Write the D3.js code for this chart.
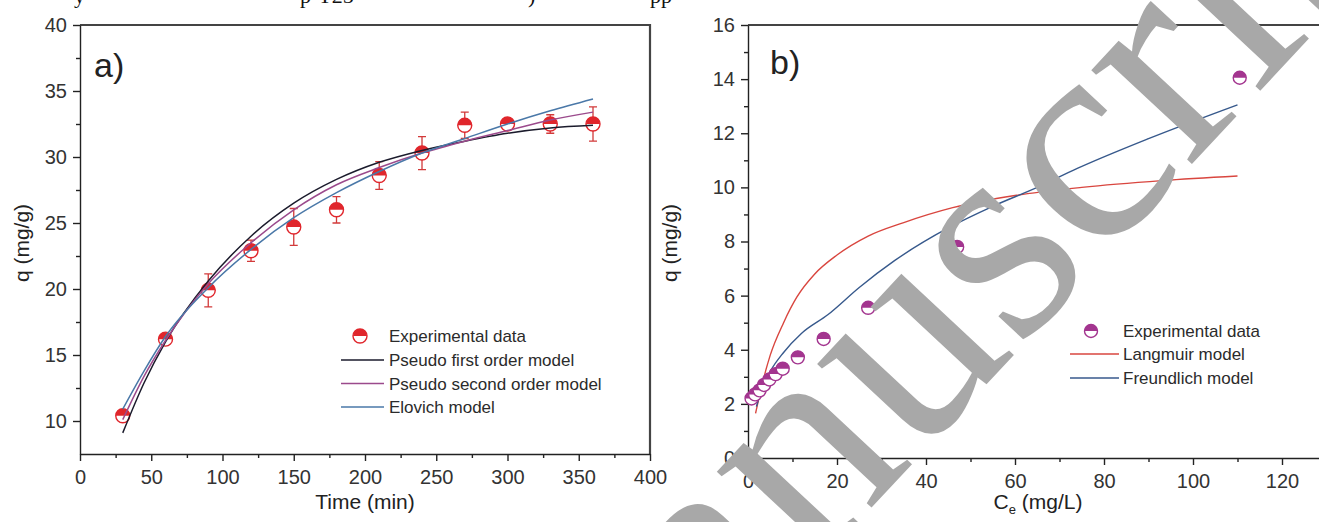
<!DOCTYPE html>
<html>
<head>
<meta charset="utf-8">
<script src="https://cdn.jsdelivr.net/npm/d3@7"></script>
<style>
body { margin: 0; background: #fff; }
svg { display: block; font-family: "Liberation Sans", Arial, sans-serif; }
.axis text { fill: #333; font-size: 20px; }
.axis path, .axis line { stroke: #222; stroke-width: 1.4; }
.legend text { font-size: 17px; fill: #2b2b2b; }
.title { font-size: 21px; fill: #222; }
</style>
</head>
<body>
<div id="chart"></div>
<script>
// panel a) kinetics
var timeMin = [30, 60, 90, 120, 150, 180, 210, 240, 270, 300, 330, 360];
var qExp = [10.4, 16.2, 19.9, 22.9, 24.7, 26.0, 28.6, 30.3, 32.4, 32.5, 32.5, 32.5];
var qErr = [0.4, 0.4, 1.25, 0.8, 1.4, 1.0, 1.05, 1.25, 1.0, 0.3, 0.7, 1.3];

var tModel = [30, 45, 60, 90, 120, 150, 180, 210, 240, 270, 300, 330, 360];
var qPFO = [9.1, 12.9, 16.0, 20.6, 24.0, 26.5, 28.3, 29.6, 30.5, 31.2, 31.8, 32.2, 32.4];
var qPSO = [10.1, 13.4, 16.1, 20.4, 23.5, 26.0, 27.9, 29.2, 30.3, 31.2, 32.0, 32.8, 33.4];
var qElovich = [10.9, 13.8, 16.4, 20.1, 23.0, 25.4, 27.3, 28.9, 30.3, 31.4, 32.5, 33.5, 34.4];

var xTicksA = [0, 50, 100, 150, 200, 250, 300, 350, 400];
var xMinorA = [25, 75, 125, 175, 225, 275, 325, 375];
var yTicksA = [10, 15, 20, 25, 30, 35, 40];
var yMinorA = [12.5, 17.5, 22.5, 27.5, 32.5, 37.5];

// panel b) isotherms
var ce = [0.8, 1.6, 2.6, 3.6, 4.8, 6.2, 7.8, 11.2, 17, 27, 47, 110.5];
var qe = [2.2, 2.35, 2.5, 2.7, 2.9, 3.1, 3.3, 3.72, 4.4, 5.55, 7.8, 14.05];

var ceLang = [1.7, 3, 5, 8, 11, 15, 20, 27, 35, 46, 60, 75, 93, 110];
var qLang = [1.65, 2.6, 3.8, 5.0, 5.95, 6.8, 7.5, 8.2, 8.7, 9.25, 9.7, 10.0, 10.25, 10.42];
var ceFreu = [1.9, 3, 5, 8, 12, 18, 25, 33, 45, 55, 65, 74, 90, 110];
var qFreu = [1.9, 2.5, 3.2, 3.9, 4.6, 5.3, 6.3, 7.3, 8.5, 9.3, 10.0, 10.7, 11.8, 13.05];

var xTicksB = [0, 20, 40, 60, 80, 100, 120];
var xMinorB = [10, 30, 50, 70, 90, 110, 130];
var yTicksB = [0, 2, 4, 6, 8, 10, 12, 14, 16];
var yMinorB = [1, 3, 5, 7, 9, 11, 13, 15];

var red = "#e0262c";
var purple = "#a3358f";

var svg = d3.select("#chart")
    .append("svg")
    .attr("width", 1319)
    .attr("height", 522);

function zip(xs, ys) {
    return xs.map((d, i) => [d, ys[i]]);
}

function halfMarker(g, cx, cy, r, color) {
    g.append("circle")
        .attr("cx", cx).attr("cy", cy).attr("r", r)
        .attr("fill", "#fff")
        .attr("stroke", color)
        .attr("stroke-width", 1.4);
    g.append("path")
        .attr("d", `M${cx - r},${cy} A${r},${r} 0 0 1 ${cx + r},${cy} Z`)
        .attr("fill", color);
}

function drawAxes(x, y, xt, xm, yt, ym, yBottom, xLeft) {
    var gx = svg.append("g")
        .attr("class", "axis")
        .attr("transform", `translate(0, ${yBottom})`);
    gx.call(d3.axisBottom(x).tickValues(xt).tickSize(7).tickPadding(9).tickSizeOuter(0));
    svg.append("g")
        .attr("class", "axis")
        .attr("transform", `translate(0, ${yBottom})`)
        .call(d3.axisBottom(x).tickValues(xm).tickSize(4).tickFormat(""))
        .select(".domain").remove();

    var gy = svg.append("g")
        .attr("class", "axis")
        .attr("transform", `translate(${xLeft}, 0)`);
    gy.call(d3.axisLeft(y).tickValues(yt).tickSize(7).tickPadding(6).tickSizeOuter(0));
    svg.append("g")
        .attr("class", "axis")
        .attr("transform", `translate(${xLeft}, 0)`)
        .call(d3.axisLeft(y).tickValues(ym).tickSize(4).tickFormat(""))
        .select(".domain").remove();
}

// ---------- panel a ----------
var xA = d3.scaleLinear().domain([0, 400]).range([80, 650]);
var yA = d3.scaleLinear().domain([7.5, 40]).range([454, 25]);

svg.append("path")
    .attr("d", `M${xA(0)},${yA(40)} H${xA(400)} V${yA(7.5)}`)
    .attr("fill", "none")
    .attr("stroke", "#444")
    .attr("stroke-width", 2.2);

drawAxes(xA, yA, xTicksA, xMinorA, yTicksA, yMinorA, 454, 80);

var lineA = d3.line()
    .x(d => xA(d[0]))
    .y(d => yA(d[1]))
    .curve(d3.curveMonotoneX);

var modelsA = [
    { q: qPFO, color: "#1b1b2c" },
    { q: qPSO, color: "#9b4a8c" },
    { q: qElovich, color: "#4a78a8" }
];

var errGroup = svg.append("g");
timeMin.forEach((t, i) => {
    var cx = xA(t);
    errGroup.append("path")
        .attr("d", `M${cx},${yA(qExp[i] - qErr[i])} V${yA(qExp[i] + qErr[i])}` +
            ` M${cx - 4},${yA(qExp[i] - qErr[i])} H${cx + 4}` +
            ` M${cx - 4},${yA(qExp[i] + qErr[i])} H${cx + 4}`)
        .attr("stroke", "#d23a3a")
        .attr("stroke-width", 1.3)
        .attr("fill", "none");
});

var markA = svg.append("g");
timeMin.forEach((t, i) => halfMarker(markA, xA(t), yA(qExp[i]), 7, red));

modelsA.forEach((m) => {
    svg.append("path")
        .datum(zip(tModel, m.q))
        .attr("d", lineA)
        .attr("fill", "none")
        .attr("stroke", m.color)
        .attr("stroke-width", 1.5);
});

svg.append("text")
    .attr("x", 94).attr("y", 77)
    .attr("font-size", 34)
    .attr("fill", "#222")
    .text("a)");

svg.append("text")
    .attr("class", "title")
    .attr("x", 365).attr("y", 509)
    .attr("text-anchor", "middle")
    .text("Time (min)");

svg.append("text")
    .attr("class", "title")
    .attr("transform", "translate(29, 243) rotate(-90)")
    .attr("text-anchor", "middle")
    .text("q (mg/g)");

var legA = svg.append("g").attr("class", "legend");
halfMarker(legA, 360, 336, 7, red);
legA.append("text").attr("x", 389).attr("y", 342).text("Experimental data");
var legNamesA = ["Pseudo first order model", "Pseudo second order model", "Elovich model"];
legNamesA.forEach((name, i) => {
    var ly = 360 + i * 23.5;
    legA.append("line")
        .attr("x1", 341).attr("x2", 384)
        .attr("y1", ly).attr("y2", ly)
        .attr("stroke", modelsA[i].color)
        .attr("stroke-width", 1.6);
    legA.append("text").attr("x", 389).attr("y", ly + 6).text(name);
});

// ---------- panel b ----------
var xB = d3.scaleLinear().domain([0, 130]).range([748, 1326.5]);
var yB = d3.scaleLinear().domain([0, 16]).range([458, 25]);

svg.append("line")
    .attr("x1", xB(0)).attr("x2", 1319)
    .attr("y1", yB(16)).attr("y2", yB(16))
    .attr("stroke", "#444")
    .attr("stroke-width", 2.2);

drawAxes(xB, yB, xTicksB, xMinorB, yTicksB, yMinorB, 458, 748);

var lineB = d3.line()
    .x(d => xB(d[0]))
    .y(d => yB(d[1]))
    .curve(d3.curveMonotoneX);

svg.append("path")
    .datum(zip(ceLang, qLang))
    .attr("d", lineB)
    .attr("fill", "none")
    .attr("stroke", "#d9463f")
    .attr("stroke-width", 1.4);

svg.append("path")
    .datum(zip(ceFreu, qFreu))
    .attr("d", lineB)
    .attr("fill", "none")
    .attr("stroke", "#37598c")
    .attr("stroke-width", 1.4);

var markB = svg.append("g");
ce.forEach((c, i) => halfMarker(markB, xB(c), yB(qe[i]), 6.5, purple));

svg.append("text")
    .attr("x", 770).attr("y", 74)
    .attr("font-size", 34)
    .attr("fill", "#222")
    .text("b)");

var xTitleB = svg.append("text")
    .attr("class", "title")
    .attr("x", 1038).attr("y", 509)
    .attr("text-anchor", "middle");
xTitleB.append("tspan").text("C");
xTitleB.append("tspan").attr("font-size", 13).attr("dy", 5).text("e");
xTitleB.append("tspan").attr("dy", -5).text(" (mg/L)");

svg.append("text")
    .attr("class", "title")
    .attr("transform", "translate(677, 243) rotate(-90)")
    .attr("text-anchor", "middle")
    .text("q (mg/g)");

var legB = svg.append("g").attr("class", "legend");
halfMarker(legB, 1091, 331, 6.5, purple);
legB.append("text").attr("x", 1123).attr("y", 337).text("Experimental data");
var legNamesB = ["Langmuir model", "Freundlich model"];
var legColorsB = ["#d9463f", "#37598c"];
legNamesB.forEach((name, i) => {
    var ly = 354 + i * 24;
    legB.append("line")
        .attr("x1", 1070).attr("x2", 1119)
        .attr("y1", ly).attr("y2", ly)
        .attr("stroke", legColorsB[i])
        .attr("stroke-width", 1.6);
    legB.append("text").attr("x", 1123).attr("y", ly + 6).text(name);
});

// cut-off line of body text at the top of the page
var topBits = [["y", 74], ["p-T25", 300], [")", 528], ["pp", 650]];
topBits.forEach((b) => {
    svg.append("text")
        .attr("x", b[1]).attr("y", 3)
        .attr("font-family", "Liberation Serif, Times New Roman, serif")
        .attr("font-size", 22)
        .attr("fill", "#111")
        .text(b[0]);
});

// diagonal watermark
svg.append("text")
    .attr("transform", "translate(722, 668) rotate(-47)")
    .attr("font-family", "Liberation Serif, Times New Roman, serif")
    .attr("font-size", 300)
    .attr("fill", "#a8a8a8")
    .text("anuscript");
</script>
</body>
</html>
